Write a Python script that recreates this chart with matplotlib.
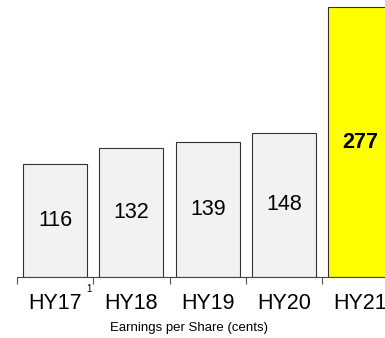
import matplotlib.pyplot as plt

periods = ["HY17", "HY18", "HY19", "HY20", "HY21"]
eps_cents = [116, 132, 139, 148, 277]
bar_colors = ["#f2f2f2", "#f2f2f2", "#f2f2f2", "#f2f2f2", "#ffff00"]

plt.rcParams["font.family"] = ["Liberation Sans", "DejaVu Sans"]

fig = plt.figure(figsize=(3.85, 3.38), dpi=100)
# the axis runs past the right edge, so the last bar is clipped
ax = fig.add_axes([17 / 385, 61 / 338, 381.5 / 385, 300 * 0.9747 / 338])

x = range(len(periods))
bars = ax.bar(x, eps_cents, width=0.84, color=bar_colors,
              edgecolor="#333333", linewidth=0.8, zorder=2)

for i, (b, v) in enumerate(zip(bars, eps_cents)):
    last = i == len(eps_cents) - 1
    ax.text(b.get_x() + b.get_width() / 2, v / 2, str(v),
            ha="center", va="center", fontsize=15.5,
            fontweight="bold" if last else "normal", color="black")

ax.set_xlim(-0.5, 4.5)
ax.set_ylim(0, 300)

# boundary ticks between categories, labels at the centres
ax.set_xticks([i - 0.5 for i in range(len(periods) + 1)])
ax.set_xticklabels([])
ax.tick_params(axis="x", which="major", direction="out", length=5,
               width=0.8, color="#555555")
ax.set_xticks(list(x), minor=True)
ax.set_xticklabels(periods, minor=True, fontsize=15.5)
ax.tick_params(axis="x", which="minor", length=0, pad=11.5)

ax.set_yticks([])
for side in ("left", "top", "right"):
    ax.spines[side].set_visible(False)
ax.spines["bottom"].set_color("#444444")
ax.spines["bottom"].set_linewidth(0.8)

# footnote marker next to HY17
ax.annotate("1", xy=(0.44, 0), xycoords=("data", "data"),
            xytext=(0, -9), textcoords="offset points",
            fontsize=7, ha="center", va="center")

fig.text(189 / 385, 1 - 328 / 338, "Earnings per Share (cents)",
         ha="center", va="center", fontsize=9.5)

fig.savefig("out.png", dpi=100)
